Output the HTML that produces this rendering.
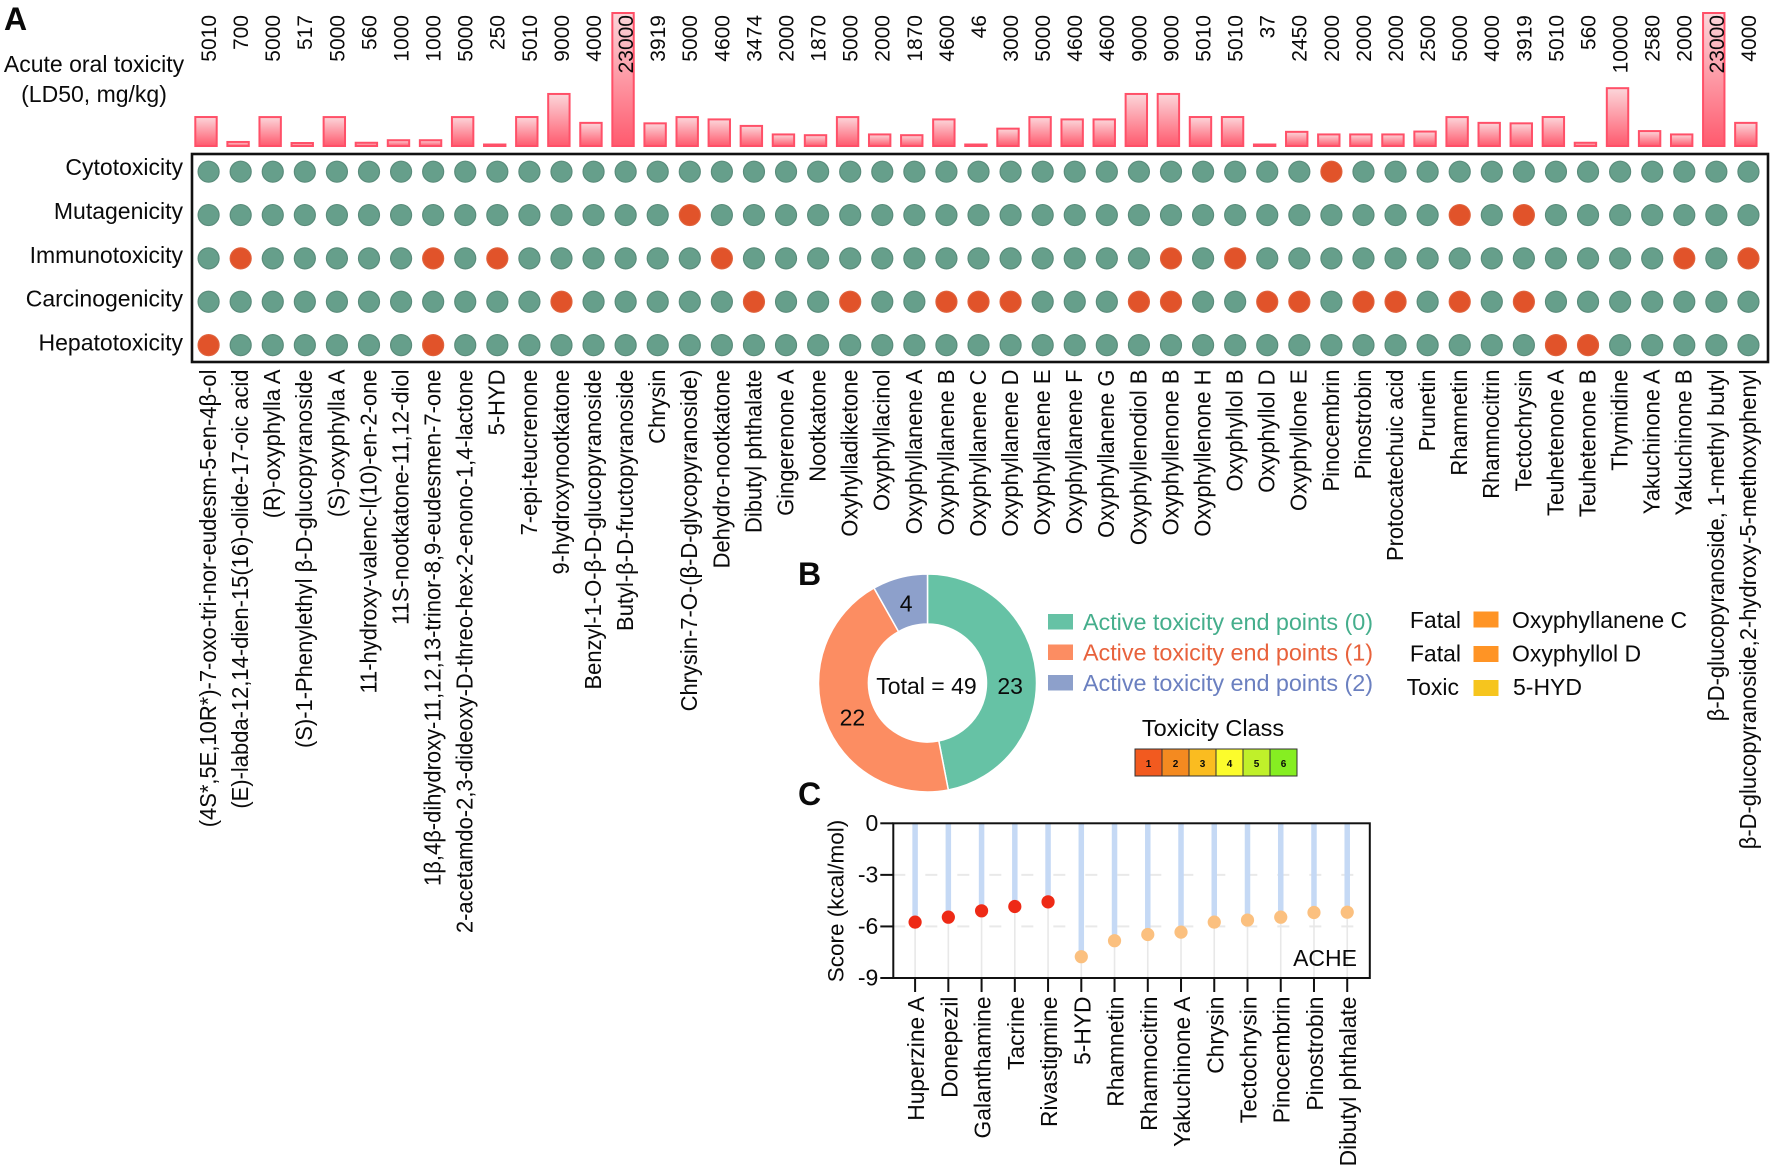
<!DOCTYPE html>
<html lang="en">
<head>
<meta charset="utf-8">
<title>Toxicity profile of compounds</title>
<style>
html,body{margin:0;padding:0;background:#fff;}
svg{display:block;}
text{font-family:"Liberation Sans","DejaVu Sans",sans-serif;fill:#0a0a0a;}
</style>
</head>
<body>
<svg id="fig" xmlns="http://www.w3.org/2000/svg" width="1772" height="1169" viewBox="0 0 1772 1169">
  <defs>
    <linearGradient id="barGrad" x1="0" y1="0" x2="0" y2="1">
      <stop offset="0" stop-color="#fbd6da"/>
      <stop offset="1" stop-color="#ff5a6e"/>
    </linearGradient>
  </defs>
  <rect width="1772" height="1169" fill="#fff"/>
  <text x="4" y="30" font-size="32" font-weight="bold">A</text>
  <text x="798" y="585" font-size="32" font-weight="bold">B</text>
  <text x="798" y="805" font-size="32" font-weight="bold">C</text>
  <text x="94" y="72" font-size="23" text-anchor="middle">Acute oral toxicity</text>
  <text x="94" y="102" font-size="23" text-anchor="middle">(LD50, mg/kg)</text>
  <g id="barsLayer"></g>
  <g id="heatLayer"></g>
  <g id="donutLayer"></g>
  <g>
    <rect x="1048" y="614" width="25" height="15.5" fill="#66c2a5"/>
    <text x="1083" y="630" font-size="23.400" textLength="290" style="fill:#45ae8c">Active toxicity end points (0)</text>
    <rect x="1048" y="644.500" width="25" height="15.5" fill="#fc8d62"/>
    <text x="1083" y="660.500" font-size="23.400" textLength="290" style="fill:#e8623c">Active toxicity end points (1)</text>
    <rect x="1048" y="675" width="25" height="15.5" fill="#8da0cb"/>
    <text x="1083" y="691" font-size="23.400" textLength="290" style="fill:#6b80c0">Active toxicity end points (2)</text>
  </g>
  <g>
    <text x="1461" y="628" font-size="23" text-anchor="end">Fatal</text>
    <rect x="1473.500" y="611.500" width="25" height="16" fill="#ff9425"/>
    <text x="1512" y="628" font-size="23">Oxyphyllanene C</text>
    <text x="1461" y="661.500" font-size="23" text-anchor="end">Fatal</text>
    <rect x="1473.500" y="646" width="25" height="16" fill="#ff9425"/>
    <text x="1512" y="661.500" font-size="23">Oxyphyllol D</text>
    <text x="1459" y="695" font-size="23" text-anchor="end">Toxic</text>
    <rect x="1473.500" y="680" width="25" height="16" fill="#f6c51e"/>
    <text x="1513" y="695" font-size="23">5-HYD</text>
  </g>
  <g>
    <text x="1213" y="736" font-size="23.500" text-anchor="middle">Toxicity Class</text>
    <rect x="1135" y="749" width="27" height="27" fill="#f25a1f" stroke="#333"/>
    <rect x="1162" y="749" width="27" height="27" fill="#f48a20" stroke="#333"/>
    <rect x="1189" y="749" width="27" height="27" fill="#fabc20" stroke="#333"/>
    <rect x="1216" y="749" width="27" height="27" fill="#fcfc2c" stroke="#333"/>
    <rect x="1243" y="749" width="27" height="27" fill="#c0f02a" stroke="#333"/>
    <rect x="1270" y="749" width="27" height="27" fill="#86ee22" stroke="#333"/>
    <text x="1148.500" y="767" font-size="10" font-weight="bold" text-anchor="middle">1</text>
    <text x="1175.500" y="767" font-size="10" font-weight="bold" text-anchor="middle">2</text>
    <text x="1202.500" y="767" font-size="10" font-weight="bold" text-anchor="middle">3</text>
    <text x="1229.500" y="767" font-size="10" font-weight="bold" text-anchor="middle">4</text>
    <text x="1256.500" y="767" font-size="10" font-weight="bold" text-anchor="middle">5</text>
    <text x="1283.500" y="767" font-size="10" font-weight="bold" text-anchor="middle">6</text>
  </g>
  <g id="dockLayer"></g>
</svg>
<script>
const compounds = [
"(4S*,5E,10R*)-7-oxo-tri-nor-eudesm-5-en-4β-ol","(E)-labda-12,14-dien-15(16)-olide-17-oic acid","(R)-oxyphylla A",
"(S)-1-Phenylethyl β-D-glucopyranoside","(S)-oxyphylla A","11-hydroxy-valenc-l(10)-en-2-one","11S-nootkatone-11,12-diol",
"1β,4β-dihydroxy-11,12,13-trinor-8,9-eudesmen-7-one","2-acetamdo-2,3-dideoxy-D-threo-hex-2-enono-1,4-lactone","5-HYD",
"7-epi-teucrenone","9-hydroxynootkatone","Benzyl-1-O-β-D-glucopyranoside","Butyl-β-D-fructopyranoside","Chrysin",
"Chrysin-7-O-(β-D-glycopyranoside)","Dehydro-nootkatone","Dibutyl phthalate","Gingerenone A","Nootkatone","Oxyhylladiketone",
"Oxyphyllacinol","Oxyphyllanene A","Oxyphyllanene B","Oxyphyllanene C","Oxyphyllanene D","Oxyphyllanene E","Oxyphyllanene F",
"Oxyphyllanene G","Oxyphyllenodiol B","Oxyphyllenone B","Oxyphyllenone H","Oxyphyllol B","Oxyphyllol D","Oxyphyllone E",
"Pinocembrin","Pinostrobin","Protocatechuic acid","Prunetin","Rhamnetin","Rhamnocitrin","Tectochrysin","Teuhetenone A",
"Teuhetenone B","Thymidine","Yakuchinone A","Yakuchinone B","β-D-glucopyranoside, 1-methyl butyl",
"β-D-glucopyranoside,2-hydroxy-5-methoxyphenyl"];
const ld50 = [5010,700,5000,517,5000,560,1000,1000,5000,250,5010,9000,4000,23000,3919,5000,4600,3474,2000,1870,5000,2000,1870,4600,46,3000,5000,4600,4600,9000,9000,5010,5010,37,2450,2000,2000,2000,2500,5000,4000,3919,5010,560,10000,2580,2000,23000,4000];
const endpoints = ["Cytotoxicity","Mutagenicity","Immunotoxicity","Carcinogenicity","Hepatotoxicity"];
const cytotoxicity = [0,0,0,0,0,0,0,0,0,0, 0,0,0,0,0,0,0,0,0,0, 0,0,0,0,0,0,0,0,0,0, 0,0,0,0,0,1,0,0,0,0, 0,0,0,0,0,0,0,0,0];
const mutagenicity = [0,0,0,0,0,0,0,0,0,0, 0,0,0,0,0,1,0,0,0,0, 0,0,0,0,0,0,0,0,0,0, 0,0,0,0,0,0,0,0,0,1, 0,1,0,0,0,0,0,0,0];
const immunotoxicity = [0,1,0,0,0,0,0,1,0,1, 0,0,0,0,0,0,1,0,0,0, 0,0,0,0,0,0,0,0,0,0, 1,0,1,0,0,0,0,0,0,0, 0,0,0,0,0,0,1,0,1];
const carcinogenicity = [0,0,0,0,0,0,0,0,0,0, 0,1,0,0,0,0,0,1,0,0, 1,0,0,1,1,1,0,0,0,1, 1,0,0,1,1,0,1,1,0,1, 0,1,0,0,0,0,0,0,0];
const hepatotoxicity = [1,0,0,0,0,0,0,1,0,0, 0,0,0,0,0,0,0,0,0,0, 0,0,0,0,0,0,0,0,0,0, 0,0,0,0,0,0,0,0,0,0, 0,0,1,1,0,0,0,0,0];
const endpointCounts = [23,22,4];
const endpointColors = ["#66c2a5","#fc8d62","#8da0cb"];
const dockingLabels = ["Huperzine A","Donepezil","Galanthamine","Tacrine","Rivastigmine","5-HYD","Rhamnetin","Rhamnocitrin","Yakuchinone A","Chrysin","Tectochrysin","Pinocembrin","Pinostrobin","Dibutyl phthalate"];
const dockingScores = [-5.75,-5.46,-5.09,-4.84,-4.57,-7.76,-6.83,-6.47,-6.33,-5.75,-5.63,-5.46,-5.19,-5.17];
const referenceDrugCount = 5;
const scoreTicks = [0,-3,-6,-9];

const NS = "http://www.w3.org/2000/svg";
function mk(tag, attrs, parent, txt){
  const el = document.createElementNS(NS, tag);
  for (const k in attrs) el.setAttribute(k, attrs[k]);
  if (txt !== undefined) el.textContent = txt;
  parent.appendChild(el);
  return el;
}

/* Panel A axes */
const barX = i => 206 + i * 32.08;
const labelX = i => 216 + i * 32.08;
const dotX = i => 208.6 + i * 32.08;
const rowY = r => 171.7 + r * 43.35;
const rowLabelY = r => 175.2 + r * 43.8;
const barBase = 146;
const barH = v => Math.max(v * 133 / 23000, 1.5);

const bars = document.getElementById("barsLayer");
ld50.forEach((v, i) => {
  const h = barH(v);
  const r = mk("rect", {x: barX(i) - 10.7, y: barBase - h, width: 21.4, height: h, fill: "url(#barGrad)", stroke: "#ff5068", "stroke-width": 2}, bars);
  
  
});
ld50.forEach((v, i) => {
  const t = mk("text", {x: labelX(i), y: 15, "font-size": 21, "text-anchor": "end", transform: `rotate(-90 ${labelX(i)} 15)`}, bars, String(v));
  
  
});

const heat = document.getElementById("heatLayer");
const matrix = [cytotoxicity, mutagenicity, immunotoxicity, carcinogenicity, hepatotoxicity];
const frame = mk("rect", {x: 192, y: 154, width: 1576, height: 208, fill: "none", stroke: "#111", "stroke-width": 2.6}, heat);


endpoints.forEach((name, r) => {
  const t = mk("text", {x: 183, y: rowLabelY(r), "font-size": 23, "text-anchor": "end"}, heat, name);
  
  
  matrix[r].forEach((val, i) => {
    const c = mk("circle", {cx: dotX(i), cy: rowY(r), r: 10.5, fill: val ? "#e1532a" : "#669f8b", stroke: val ? "#e0623c" : "#5a8c7b", "stroke-width": 1.2}, heat);
    
    
  });
});
compounds.forEach((name, i) => {
  const x = dotX(i) + 7.4;
  const t = mk("text", {x: 0, y: 0, "font-size": 23, "text-anchor": "end", transform: `translate(${x} 369.5) rotate(-90) scale(0.955 1)`}, heat, name);
  
  
});

/* Panel B */
const donut = document.getElementById("donutLayer");
const cx = 927.5, cy = 683, R = 109, Ri = 59;
const total = endpointCounts.reduce((a, b) => a + b, 0);
const angleOf = n => 2 * Math.PI * n / total;
const polar = (r, a) => [cx + r * Math.sin(a), cy - r * Math.cos(a)];
let acc = 0;
const labelRadius = [83, 80, 84];
const labelDrop = [19, 15, 10];
endpointCounts.forEach((n, i) => {
  const a0 = angleOf(acc), a1 = angleOf(acc + n);
  const large = a1 - a0 > Math.PI ? 1 : 0;
  const p0 = polar(R, a0), p1 = polar(R, a1), p2 = polar(Ri, a1), p3 = polar(Ri, a0);
  const seg = mk("path", {d: `M${p0} A${R} ${R} 0 ${large} 1 ${p1} L${p2} A${Ri} ${Ri} 0 ${large} 0 ${p3} Z`, fill: endpointColors[i], stroke: "#fff", "stroke-width": 1.5}, donut);
  
  
  acc += n;
});
acc = 0;
endpointCounts.forEach((n, i) => {
  const mid = angleOf(acc + n / 2);
  const p = polar(labelRadius[i], mid);
  const t = mk("text", {x: p[0], y: p[1] + labelDrop[i], "font-size": 23, "text-anchor": "middle"}, donut, String(n));
  
  
  acc += n;
});
const totalText = mk("text", {x: 926.5, y: 694, "font-size": 23, "text-anchor": "middle"}, donut, "Total = " + total);



/* Panel C */
const dock = document.getElementById("dockLayer");
const plotL = 893.3, plotR = 1369.8, plotT = 823.3, plotB = 978;
const sx = i => 915.1 + i * 33.24;
const sy = v => plotT + (0 - v) * (plotB - plotT) / 9;
[-3, -6].forEach(v => {
  const g = mk("line", {x1: plotL, x2: plotR, y1: sy(v), y2: sy(v), stroke: "#e9e9e9", "stroke-width": 2, "stroke-dasharray": "12 20"}, dock);
  
  
});
dockingScores.forEach((v, i) => {
  const g = mk("line", {x1: sx(i), x2: sx(i), y1: plotT, y2: plotB, stroke: "#e8e8e8", "stroke-width": 1.6}, dock);
  
  
  const s = mk("line", {x1: sx(i), x2: sx(i), y1: plotT, y2: sy(v), stroke: "#c5d9f5", "stroke-width": 5.5}, dock);
  
  
});
dockingScores.forEach((v, i) => {
  const c = mk("circle", {cx: sx(i), cy: sy(v), r: 6.6, fill: i < referenceDrugCount ? "#ee2a16" : "#fbc07f"}, dock);
  
  
});
const box = mk("rect", {x: plotL, y: plotT, width: plotR - plotL, height: plotB - plotT, fill: "none", stroke: "#111", "stroke-width": 2}, dock);


scoreTicks.forEach(v => {
  const tk = mk("line", {x1: plotL - 13, x2: plotL, y1: sy(v), y2: sy(v), stroke: "#111", "stroke-width": 2}, dock);
  
  
  const t = mk("text", {x: plotL - 15, y: sy(v) + 7.5, "font-size": 23, "text-anchor": "end"}, dock, String(v));
  
  
});
dockingLabels.forEach((name, i) => {
  const tk = mk("line", {x1: sx(i), x2: sx(i), y1: plotB, y2: plotB + 14, stroke: "#111", "stroke-width": 2}, dock);
  
  
  const x = sx(i) + 9;
  const t = mk("text", {x: x, y: 996.5, "font-size": 22.8, "text-anchor": "end", transform: `rotate(-90 ${x} 996.5)`}, dock, name);
  
  
});
const yTitle = mk("text", {x: 843.5, y: 901, "font-size": 22.5, "text-anchor": "middle", transform: "rotate(-90 843.5 901)"}, dock, "Score (kcal/mol)");


const ache = mk("text", {x: 1357, y: 966, "font-size": 23, "text-anchor": "end"}, dock, "ACHE");


</script>
</body>
</html>
